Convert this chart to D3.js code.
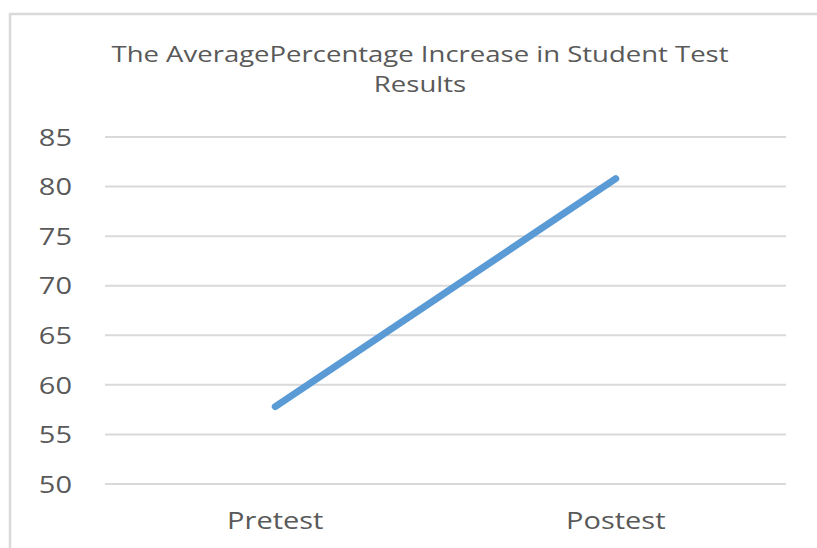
<!DOCTYPE html>
<html>
<head>
<meta charset="utf-8">
<script src="https://cdn.jsdelivr.net/npm/d3@7"></script>
<style>
  html, body { margin: 0; padding: 0; background: #ffffff; }
  svg { display: block; }
  text { font-family: "Open Sans", "Lato", sans-serif; fill: #595959; }
</style>
</head>
<body>
<svg id="chart" width="817" height="548"></svg>
<script>
// Chart data
const categories = ["Pretest", "Postest"];
const averageScores = [57.8, 80.8];
const yTicks = [50, 55, 60, 65, 70, 75, 80, 85];
const titleLines = ["The AveragePercentage Increase in Student Test", "Results"];

const W = 817, H = 548;
const svg = d3.select("#chart");

// Outer chart frame (extends past the right and bottom edges)
svg.append("rect")
  .attr("x", 10).attr("y", 14)
  .attr("width", 830).attr("height", 560)
  .attr("fill", "#ffffff")
  .attr("stroke", "#d9d9d9")
  .attr("stroke-width", 2.5);

const plot = { left: 105, right: 786, top: 137, bottom: 484 };

const x = d3.scaleBand()
  .domain(categories)
  .range([plot.left, plot.right])
  .padding(0);

const y = d3.scaleLinear()
  .domain([50, 85])
  .range([plot.bottom, plot.top]);

// Horizontal text stretch used by the chart's font rendering
function widen(stretch) {
  return sel => sel.each(function () {
    const len = this.getComputedTextLength();
    d3.select(this)
      .attr("textLength", len * stretch)
      .attr("lengthAdjust", "spacingAndGlyphs");
  });
}

// Gridlines
svg.append("g")
  .selectAll("line")
  .data(yTicks)
  .join("line")
  .attr("x1", plot.left).attr("x2", plot.right)
  .attr("y1", d => y(d)).attr("y2", d => y(d))
  .attr("stroke", "#d9d9d9")
  .attr("stroke-width", 2);

// Y axis labels
const yAxis = d3.axisLeft(y).tickValues(yTicks).tickSize(0).tickPadding(0);
const yG = svg.append("g")
  .attr("transform", `translate(${plot.left - 33},0)`)
  .call(yAxis);
yG.select(".domain").remove();
yG.selectAll("text")
  .style("font-family", "\"Open Sans\", Lato, sans-serif")
  .style("font-size", "23px")
  .style("fill", "#595959")
  .attr("dy", "0.36em")
  .call(widen(1.26));

// X axis labels
const xAxis = d3.axisBottom(x).tickSize(0).tickPadding(0);
const xG = svg.append("g")
  .attr("transform", `translate(0,${plot.bottom})`)
  .call(xAxis);
xG.select(".domain").remove();
xG.selectAll("text")
  .style("font-family", "\"Open Sans\", Lato, sans-serif")
  .style("font-size", "23px")
  .style("fill", "#595959")
  .attr("y", 45)
  .attr("dy", 0)
  .call(widen(1.26));

// Series line
const line = d3.line()
  .x((d, i) => x(categories[i]) + x.bandwidth() / 2)
  .y(d => y(d));

svg.append("path")
  .datum(averageScores)
  .attr("d", line)
  .attr("fill", "none")
  .attr("stroke", "#5b9bd5")
  .attr("stroke-width", 7)
  .attr("stroke-linecap", "round")
  .attr("stroke-linejoin", "round");

// Title
svg.append("g")
  .selectAll("text")
  .data(titleLines)
  .join("text")
  .attr("x", 420)
  .attr("y", (d, i) => 62 + i * 30)
  .attr("text-anchor", "middle")
  .style("font-size", "22px")
  .text(d => d)
  .call(widen(1.25));
</script>
</body>
</html>
